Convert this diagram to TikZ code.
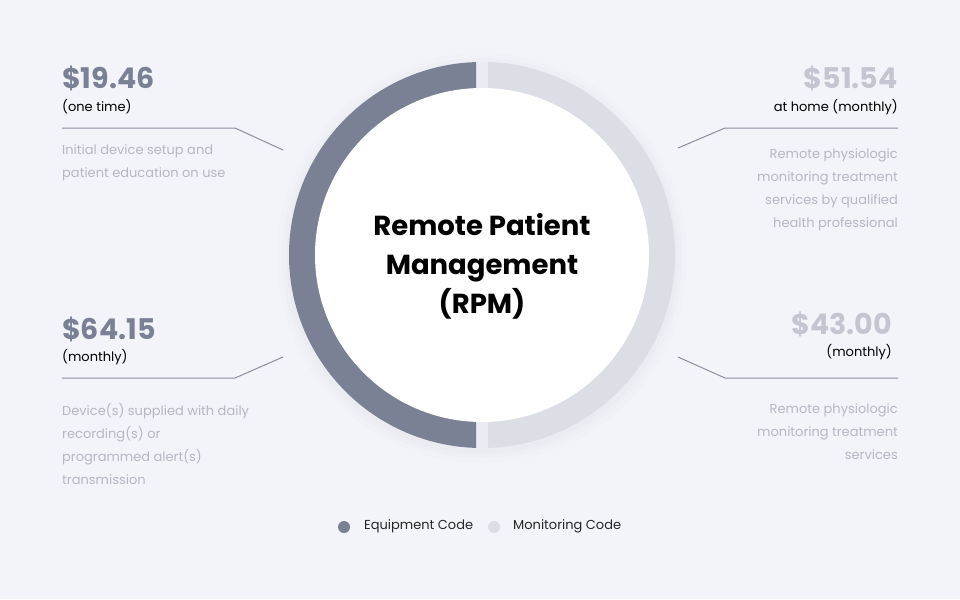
\documentclass[tikz,border=0pt]{standalone}
\usepackage{fontspec}
\setmainfont{Poppins}
\definecolor{bg}{HTML}{F3F4FA}
\definecolor{dark}{HTML}{7A8194}
\definecolor{light}{HTML}{DCDEE5}
\definecolor{desc}{HTML}{B5B8C3}
\definecolor{lightprice}{HTML}{C3C6D0}
\definecolor{leader}{HTML}{8A8F9E}
\begin{document}
\begin{tikzpicture}[x=1pt,y=-1pt,
  price/.style={inner sep=0pt,font=\fontsize{28.5}{32}\selectfont\bfseries},
  sub/.style={inner sep=0pt,font=\fontsize{13}{16}\selectfont,text=black},
  dsc/.style={inner sep=0pt,font=\fontsize{13}{23}\selectfont,text=desc},
  lead/.style={draw=leader,line width=1pt}]
\fill[bg] (0,0) rectangle (960,599);
\useasboundingbox (0,0) rectangle (960,599);
% soft shadow
\foreach \r/\o in {205/0.15,200/0.25,196/0.35}{\fill[light!60!bg,opacity=\o] (482,258) circle (\r);}
\begin{scope}\clip (0,0) rectangle (476,599);
\fill[dark] (482,255) circle (193);\end{scope}
\begin{scope}\clip (488,0) rectangle (960,599);
\fill[light] (482,255) circle (193);\end{scope}
\node[circle,fill=white,minimum size=334pt,inner sep=0pt] (c) at (482,255) {};
\node[align=center,font=\fontsize{27.5}{39}\selectfont\bfseries] (t) at (482,266) {Remote Patient\\Management\\(RPM)};
% top left
\node[price,text=dark,anchor=base west] (p1) at (62,89) {\$19.46};
\node[sub,anchor=base west] (s1) at (62,111) {(one time)};
\node[dsc,anchor=north west,align=left] (d1) at (62,144) {Initial device setup and\\patient education on use};
\coordinate (a1) at (62,128); \coordinate (b1) at (235,128); \coordinate (e1) at (283,150);
\draw[lead] (a1) -- (b1) -- (e1);
% top right
\node[price,text=lightprice,anchor=base east] (p2) at (898,89) {\$51.54};
\node[sub,anchor=base east] (s2) at (898,111) {at home (monthly)};
\node[dsc,anchor=north east,align=right] (d2) at (898,148) {Remote physiologic\\monitoring treatment\\services by qualified\\health professional};
\coordinate (a2) at (898,128); \coordinate (b2) at (725,128); \coordinate (e2) at (678,148);
\draw[lead] (a2) -- (b2) -- (e2);
% bottom left
\node[price,text=dark,anchor=base west] (p3) at (62,339) {\$64.15};
\node[sub,anchor=base west] (s3) at (62,361) {(monthly)};
\node[dsc,anchor=north west,align=left] (d3) at (62,403) {Device(s) supplied with daily\\recording(s) or\\programmed alert(s)\\transmission};
\coordinate (a3) at (62,378); \coordinate (b3) at (235,378); \coordinate (e3) at (283,357);
\draw[lead] (a3) -- (b3) -- (e3);
% bottom right
\node[price,text=lightprice,anchor=base east] (p4) at (892,334) {\$43.00};
\node[sub,anchor=base east] (s4) at (892,356) {(monthly)};
\node[dsc,anchor=north east,align=right] (d4) at (898,403) {Remote physiologic\\monitoring treatment\\services};
\coordinate (a4) at (898,378); \coordinate (b4) at (725,378); \coordinate (e4) at (678,357);
\draw[lead] (a4) -- (b4) -- (e4);
% legend
\node[circle,fill=dark,minimum size=12pt,inner sep=0pt] (l1) at (344,527) {};
\node[sub,anchor=west,text=black!85] (lt1) at (364,526) {Equipment Code};
\node[circle,fill=light,minimum size=12pt,inner sep=0pt] (l2) at (494,527) {};
\node[sub,anchor=west,text=black!85] (lt2) at (513,526) {Monitoring Code};
\end{tikzpicture}
\end{document}
